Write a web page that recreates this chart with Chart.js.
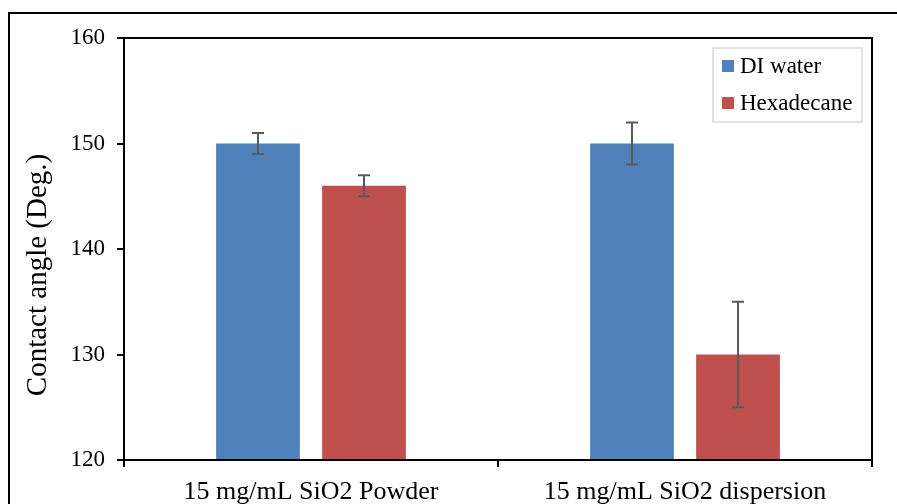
<!DOCTYPE html>
<html>
<head>
<meta charset="utf-8">
<script src="https://cdn.jsdelivr.net/npm/chart.js@4"></script>
<style>
  body { margin: 0; background: #fff; }
</style>
</head>
<body>
<canvas id="angle-chart" width="897" height="504"></canvas>
<script>
const categories = ['15 mg/mL SiO2 Powder', '15 mg/mL SiO2 dispersion'];
const diWater = [150, 150];
const diWaterErr = [1, 2];
const hexadecane = [146, 130];
const hexadecaneErr = [1, 5];
const yTitle = 'Contact angle (Deg.)';

const serif = "'Liberation Serif', 'Times New Roman', serif";

// error bars, frame and legend are drawn by hand
const extras = {
  id: 'extras',
  afterDatasetsDraw(chart) {
    const ctx = chart.ctx;
    const y = chart.scales.y;
    ctx.save();
    ctx.strokeStyle = '#595959';
    ctx.lineWidth = 2;
    chart.data.datasets.forEach((ds, i) => {
      chart.getDatasetMeta(i).data.forEach((bar, j) => {
        const v = ds.data[j];
        const e = ds.errors[j];
        const top = y.getPixelForValue(v + e);
        const bot = y.getPixelForValue(v - e);
        ctx.beginPath();
        ctx.moveTo(bar.x, top);
        ctx.lineTo(bar.x, bot);
        ctx.moveTo(bar.x - 6, top);
        ctx.lineTo(bar.x + 6, top);
        ctx.moveTo(bar.x - 6, bot);
        ctx.lineTo(bar.x + 6, bot);
        ctx.stroke();
      });
    });
    ctx.restore();
  },
  afterDraw(chart) {
    const ctx = chart.ctx;
    const a = chart.chartArea;
    ctx.save();
    // plot frame
    ctx.strokeStyle = '#000';
    ctx.lineWidth = 2;
    ctx.strokeRect(a.left, a.top, a.right - a.left, a.bottom - a.top);
    // outer frame
    ctx.strokeRect(9, 13, 1000, 1000);

    // y title
    ctx.fillStyle = '#000';
    ctx.font = '29px ' + serif;
    ctx.textAlign = 'center';
    ctx.textBaseline = 'middle';
    ctx.translate(38, 275);
    ctx.rotate(-Math.PI / 2);
    ctx.fillText(yTitle, 0, 0);
    ctx.setTransform(1, 0, 0, 1, 0, 0);

    // legend
    const lx = a.right - 159, ly = 48;
    ctx.strokeStyle = '#d9d9d9';
    ctx.lineWidth = 1.5;
    ctx.strokeRect(lx, ly, 149, 74);
    ctx.font = '23px ' + serif;
    ctx.textAlign = 'left';
    chart.data.datasets.forEach((ds, i) => {
      const cy = ly + 18 + i * 37;
      ctx.fillStyle = ds.backgroundColor;
      ctx.fillRect(lx + 9, cy - 6, 12, 12);
      ctx.fillStyle = '#000';
      ctx.fillText(ds.label, lx + 27, cy + 1);
    });
    ctx.restore();
  }
};

const data = {
  labels: categories,
  datasets: [{
    label: 'DI water',
    data: diWater,
    errors: diWaterErr,
    backgroundColor: '#4F81BD',
    categoryPercentage: 0.567,
    barPercentage: 0.79,
  }, {
    label: 'Hexadecane',
    data: hexadecane,
    errors: hexadecaneErr,
    backgroundColor: '#C0504D',
    categoryPercentage: 0.567,
    barPercentage: 0.79,
  }]
};

const config = {
  type: 'bar',
  data: data,
  options: {
    responsive: false,
    animation: false,
    devicePixelRatio: 1,
    layout: { padding: { top: 38, right: 25, left: 0, bottom: 0 } },
    plugins: {
      legend: { display: false },
      tooltip: { enabled: false },
    },
    scales: {
      x: {
        afterFit: scale => { scale.height = 44; },
        grid: { drawOnChartArea: false, drawTicks: true, tickLength: 7, color: '#000', lineWidth: 2 },
        border: { display: true, color: '#000', width: 2 },
        ticks: { color: '#000', font: { family: serif, size: 26 }, padding: 10, maxRotation: 0 },
      },
      y: {
        min: 120,
        max: 160,
        afterFit: scale => { scale.width = 124; },
        grid: { drawOnChartArea: false, drawTicks: true, tickLength: 7, color: '#000', lineWidth: 2 },
        border: { display: true, color: '#000', width: 2 },
        ticks: { stepSize: 10, color: '#000', font: { family: serif, size: 23 }, padding: 12 },
      }
    }
  },
  plugins: [extras]
};

const ctx = document.getElementById('angle-chart');

new Chart(ctx, config);
</script>
</body>
</html>
